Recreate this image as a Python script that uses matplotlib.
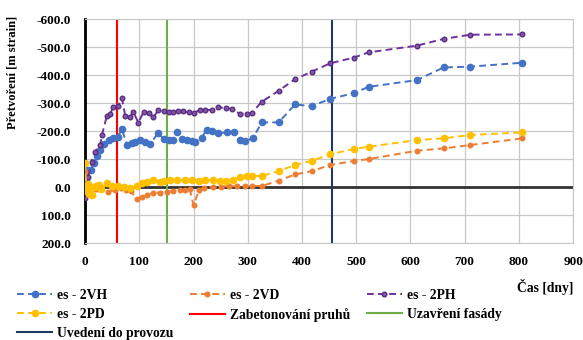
import matplotlib
matplotlib.use("Agg")
import matplotlib.pyplot as plt

# ---- data ----
vh_days = [2, 5, 10, 16, 22, 27, 35, 44, 52, 60, 68, 77, 86, 92, 101, 111, 120, 135, 145, 154, 163, 169, 178, 188, 197, 203, 215, 224, 234, 246, 261, 274, 286, 295, 309, 326, 357, 387, 418, 452, 495, 523, 612, 661, 710, 806]
vh_vals = [-30, -60, -62, -85, -112, -132, -155, -168, -174, -180, -206, -152, -156, -162, -168, -162, -154, -194, -170, -168, -168, -198, -170, -168, -164, -162, -177, -204, -200, -192, -195, -195, -168, -164, -174, -231, -231, -295, -289, -315, -335, -358, -382, -427, -430, -444]

ph_days = [0, 6, 12, 18, 28, 31, 40, 46, 52, 61, 68, 74, 83, 89, 98, 108, 117, 126, 135, 145, 154, 163, 172, 181, 191, 200, 212, 222, 234, 246, 259, 271, 286, 298, 307, 326, 357, 387, 418, 452, 495, 523, 612, 661, 710, 806]
ph_vals = [40, -37, -90, -126, -150, -186, -254, -260, -287, -289, -317, -254, -251, -269, -230, -269, -263, -249, -275, -272, -269, -269, -270, -270, -267, -265, -275, -275, -276, -285, -282, -279, -261, -261, -264, -305, -344, -385, -412, -442, -462, -481, -505, -529, -544, -545]

pd_days = [0, 2, 4, 6, 8, 10, 13, 16, 20, 25, 30, 40, 50, 61, 71, 83, 95, 104, 114, 126, 138, 145, 157, 170, 184, 197, 210, 222, 235, 248, 260, 272, 286, 298, 307, 326, 357, 387, 418, 452, 495, 523, 612, 661, 710, 806]
pd_vals = [-85, 0, 15, -10, 25, 5, 28, 0, -5, -7, 8, -13, -5, -5, 0, 5, -3, -13, -19, -25, -19, -22, -25, -24, -25, -24, -22, -24, -24, -22, -20, -25, -35, -38, -39, -40, -57, -79, -94, -117, -136, -144, -168, -174, -186, -195]

vd_days = [0, 3, 6, 10, 15, 20, 30, 43, 55, 66, 75, 85, 95, 104, 114, 126, 138, 151, 163, 175, 184, 193, 200, 210, 219, 235, 250, 265, 280, 295, 307, 326, 357, 387, 418, 452, 495, 523, 612, 661, 710, 806]
vd_vals = [-55, 10, 5, 15, 5, 8, 0, 17, 10, 5, 10, 15, 44, 35, 30, 20, 20, 17, 15, 12, 10, 7, 65, 10, 2, 0, -2, -3, -3, -3, -4, -4, -23, -45, -57, -79, -93, -100, -130, -138, -150, -174]

event_days = [59, 151, 455]
event_labels = ["Zabetonování pruhů", "Uzavření fasády", "Uvedení do provozu"]
event_colors = ["#FF0000", "#70AD47", "#1F3864"]

y_ticks = [-600, -500, -400, -300, -200, -100, 0, 100, 200]
x_ticks = [0, 100, 200, 300, 400, 500, 600, 700, 800, 900]

plt.rcParams['font.family'] = ['Liberation Serif', 'DejaVu Serif']
plt.rcParams['font.weight'] = 'bold'

fig = plt.figure(figsize=(5.83, 3.40), dpi=100)
ax = fig.add_axes([0.146, 0.285, 0.837, 0.659])

ax.set_xlim(0, 900)
ax.set_ylim(200, -600)
ax.set_xticks(x_ticks)
ax.set_yticks(y_ticks)
ax.set_yticklabels([f"{v:.1f}" for v in y_ticks])
ax.set_xticklabels([str(v) for v in x_ticks])
ax.grid(True, color="#C8C8C8", lw=0.9)
ax.set_axisbelow(True)
ax.tick_params(axis='y', length=0, labelsize=9.5, pad=10)
ax.tick_params(axis='x', length=0, labelsize=9.5, pad=9)
for lab in ax.get_xticklabels() + ax.get_yticklabels():
    lab.set_fontweight('bold')
for s in ["top", "right", "bottom"]:
    ax.spines[s].set_color("#C8C8C8")
ax.spines["left"].set_color("black")
ax.spines["left"].set_linewidth(2)

ax.axhline(0, color="#333333", lw=2, zorder=1.5)

dash = (0, (3.5, 2.2))
h_vh, = ax.plot(vh_days, vh_vals, ls=dash, color="#4472C4", lw=1.4, marker="o", ms=4.5, label="es - 2VH", zorder=3)
h_vd, = ax.plot(vd_days, vd_vals, ls=dash, color="#ED7D31", lw=1.4, marker="o", ms=3.3, label="es - 2VD", zorder=3)
h_ph, = ax.plot(ph_days, ph_vals, ls=dash, color="#7030A0", lw=1.4, marker="o", ms=3.3, label="es - 2PH", zorder=3,
                markerfacecolor="#7F5AA2", markeredgecolor="#5B2C86")
h_pd, = ax.plot(pd_days, pd_vals, ls=dash, color="#FFC000", lw=1.4, marker="o", ms=4.5, label="es - 2PD", zorder=3)

ev = []
for d, l, c in zip(event_days, event_labels, event_colors):
    ev.append(ax.axvline(d, color=c, lw=1.5, label=l, zorder=2.5))

ax.set_ylabel("Přetvoření [m strain]", fontsize=9.0, fontweight='bold')
ax.yaxis.set_label_coords(-0.137, 0.76)
ax.set_xlabel("Čas [dny]", fontsize=9.8, fontweight='bold', loc='right', labelpad=8)

handles = [h_vh, h_pd, ev[2], h_vd, ev[0], h_ph, ev[1]]
labels = [h.get_label() for h in handles]
leg = fig.legend(handles, labels, ncol=3, loc="upper left", bbox_to_anchor=(0.029, 0.15),
                 frameon=False, fontsize=9.8, handlelength=2.6, columnspacing=1.2,
                 handletextpad=0.35, labelspacing=0.45, borderaxespad=0, borderpad=0)
for t in leg.get_texts():
    t.set_fontweight('bold')

fig.savefig("out.png", dpi=100)
